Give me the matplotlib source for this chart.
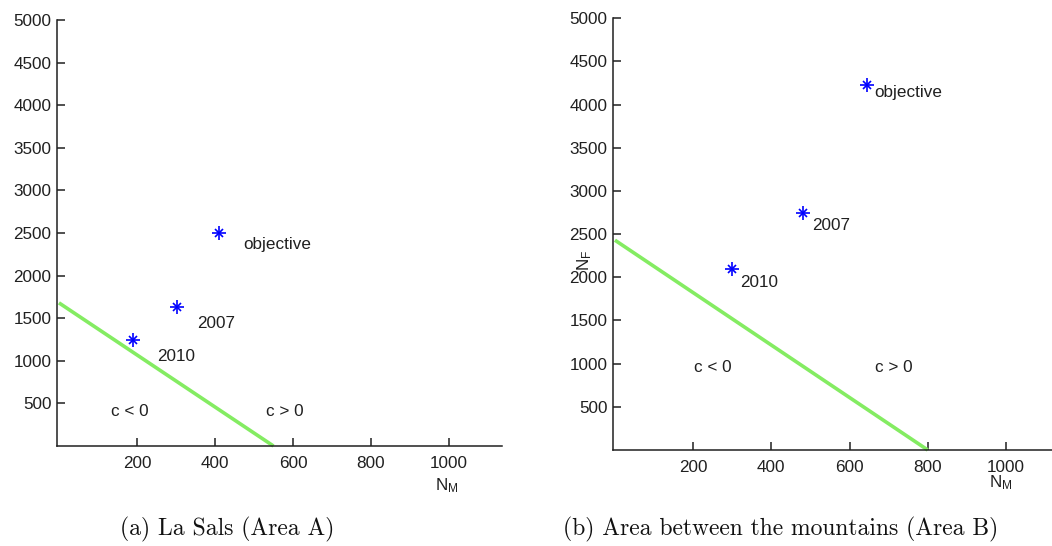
import matplotlib
matplotlib.use("Agg")
import matplotlib.pyplot as plt

# ---- data ----
labels = ["2010", "2007", "objective"]

# Area A (La Sals)
a_nm = [190, 302, 410]
a_nf = [1240, 1630, 2500]
a_line_nm = [0, 550]
a_line_nf = [1680, 0]

# Area B (between the mountains)
b_nm = [300, 480, 645]
b_nf = [2100, 2750, 4230]
b_line_nm = [0, 800]
b_line_nf = [2430, 0]

y_ticks = [500, 1000, 1500, 2000, 2500, 3000, 3500, 4000, 4500, 5000]
x_ticks = [200, 400, 600, 800, 1000]

captions = ["(a) La Sals (Area A)", "(b) Area between the mountains (Area B)"]

# ---- style ----
W, H = 1052, 546
plt.rcParams["font.family"] = ["Liberation Sans", "DejaVu Sans"]
plt.rcParams["mathtext.fontset"] = "custom"
plt.rcParams["mathtext.rm"] = "Liberation Sans"
plt.rcParams["mathtext.it"] = "Liberation Sans"

fig = plt.figure(figsize=(W / 100, H / 100), dpi=100)
fig.patch.set_facecolor("white")

LINE_GREEN = "#84ec62"
MARK_BLUE = "#0000ff"
TICK_FS = 12.3


def px_rect(left, top, right, bottom):
    return [left / W, 1 - bottom / H, (right - left) / W, (bottom - top) / H]


def style_axes(ax):
    for side in ("top", "right"):
        ax.spines[side].set_visible(False)
    for side in ("left", "bottom"):
        ax.spines[side].set_linewidth(1.1)
        ax.spines[side].set_color("#202020")
    ax.set_xlim(-5, 1136)
    ax.set_ylim(0, 5000)
    ax.set_xticks(x_ticks)
    ax.set_yticks(y_ticks)
    ax.set_xticklabels([str(v) for v in x_ticks])
    ax.set_yticklabels([str(v) for v in y_ticks])
    ax.tick_params(direction="in", length=6, width=1.1, color="#202020",
                   labelsize=TICK_FS, labelcolor="#202020")
    ax.tick_params(axis="x", pad=7)
    ax.tick_params(axis="y", pad=4)
    ax.patch.set_alpha(0)


def asterisks(ax, xs, ys):
    ax.plot(xs, ys, ls="none", marker="+", ms=10, mew=1.2, color=MARK_BLUE,
            clip_on=False, zorder=4)
    ax.plot(xs, ys, ls="none", marker="x", ms=5.5, mew=1.2, color=MARK_BLUE,
            clip_on=False, zorder=4)


# ---- panel (a) ----
ax1 = fig.add_axes(px_rect(57, 20, 502, 446))
style_axes(ax1)
ax1.plot(a_line_nm, a_line_nf, color=LINE_GREEN, lw=2.6, solid_capstyle="butt",
         clip_on=False)
asterisks(ax1, a_nm, a_nf)
a_offsets = [(62, -190), (52, -190), (62, -140)]
for x, y, t, (dx, dy) in zip(a_nm, a_nf, labels, a_offsets):
    ax1.text(x + dx, y + dy, t, fontsize=TICK_FS, color="#202020",
             ha="left", va="center")
ax1.text(133, 400, "c < 0", fontsize=TICK_FS, color="#202020", ha="left", va="center")
ax1.text(531, 400, "c > 0", fontsize=TICK_FS, color="#202020", ha="left", va="center")
fig.text(435 / W, 1 - 486 / H, r"$\mathrm{N_M}$", fontsize=TICK_FS,
         color="#202020", ha="left", va="center")

# ---- panel (b) ----
ax2 = fig.add_axes(px_rect(613, 18.3, 613 + 1141 * 0.391, 450))
style_axes(ax2)
ax2.plot(b_line_nm, b_line_nf, color=LINE_GREEN, lw=2.6, solid_capstyle="butt",
         clip_on=False)
asterisks(ax2, b_nm, b_nf)
b_offsets = [(21, -156), (23, -146), (17, -86)]
for x, y, t, (dx, dy) in zip(b_nm, b_nf, labels, b_offsets):
    ax2.text(x + dx, y + dy, t, fontsize=TICK_FS, color="#202020",
             ha="left", va="center")
ax2.text(203, 960, "c < 0", fontsize=TICK_FS, color="#202020", ha="left", va="center")
ax2.text(664, 960, "c > 0", fontsize=TICK_FS, color="#202020", ha="left", va="center")
fig.text(989 / W, 1 - 483 / H, r"$\mathrm{N_M}$", fontsize=TICK_FS,
         color="#202020", ha="left", va="center")
fig.text(585 / W, 1 - 260 / H, r"$\mathrm{N_F}$", fontsize=TICK_FS,
         color="#202020", ha="center", va="center", rotation=90)

# ---- captions ----
fig.text(227 / W, 1 - 529 / H, captions[0], family="cmr10", fontsize=17,
         ha="center", va="center", color="#111111")
fig.text(781 / W, 1 - 529 / H, captions[1], family="cmr10", fontsize=17,
         ha="center", va="center", color="#111111")

fig.savefig("out.png", dpi=100, facecolor="white")
